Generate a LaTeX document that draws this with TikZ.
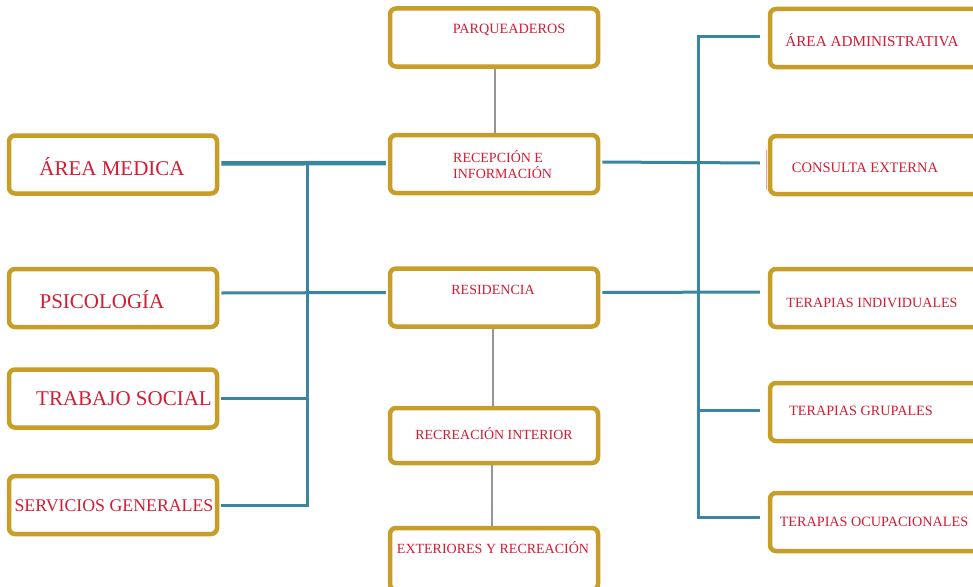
\documentclass[tikz,border=0pt]{standalone}
\usepackage{fontspec}
\setmainfont{Liberation Serif}
\definecolor{gold}{RGB}{198,158,40}
\definecolor{teal2}{RGB}{56,134,160}
\definecolor{redtxt}{RGB}{212,28,52}
\definecolor{grayline}{RGB}{150,150,150}
\begin{document}
\begin{tikzpicture}[x=1pt,y=-1pt,
  box/.style={draw=gold,line width=4.5pt,rounded corners=6pt,fill=white,inner sep=0pt},
  lbox/.style={box,minimum width=208pt,minimum height=58pt},
  cbox/.style={box,minimum width=208pt,minimum height=58pt},
  rbox/.style={box,minimum width=215pt,minimum height=58pt},
  txt/.style={text=redtxt,inner sep=0pt,font=\fontsize{14}{16}\selectfont},
  conn/.style={draw=teal2,line width=3pt},
  gconn/.style={draw=grayline,line width=2pt}]
\useasboundingbox (0,0) rectangle (973,586);
\clip (0,0) rectangle (973,586);
\coordinate (lx) at (307,0);
\coordinate (rx) at (698,0);
% left boxes
\node[lbox] (am) at (113,164.5) {};
\node[lbox] (ps) at (113,298) {};
\node[lbox] (ts) at (113,398.5) {};
\node[lbox] (sg) at (113,505) {};
% centre boxes
\node[cbox] (pq) at (494,37.5) {};
\node[cbox] (re) at (494,164) {};
\node[cbox] (rs) at (494,297.5) {};
\node[cbox,minimum height=55pt] (ri) at (494,435.5) {};
\node[cbox,minimum height=62pt] (ex) at (494,559) {};
% right boxes
\node[rbox] (aa) at (877.5,38) {};
\node[rbox] (ce) at (877.5,165) {};
\node[rbox] (ti) at (877.5,298) {};
\node[rbox] (tg) at (877.5,412) {};
\node[rbox] (to) at (877.5,522) {};
% teal connectors
\draw[conn,line width=4.5pt] ([xshift=2pt,yshift=1pt]am.east) -- ([xshift=-2pt,yshift=1pt]re.west);
\draw[conn] ([xshift=2pt,yshift=5pt]ps.east) -- ([xshift=-2pt,yshift=5pt]rs.west);
\draw[conn] ([yshift=1pt]am.east -| lx) |- ([xshift=2pt]sg.east);
\draw[conn] ([xshift=2pt]ts.east) -- (ts.east -| lx);
\draw[conn] ([xshift=2pt,yshift=2pt]re.east) -- ([xshift=-8pt,yshift=2pt]ce.west);
\draw[conn] ([xshift=2pt,yshift=5pt]rs.east) -- ([xshift=-8pt,yshift=6pt]ti.west);
\draw[conn] ([xshift=-8pt,yshift=1pt]aa.west) -| ([yshift=5pt]rx |- to.west) -- ([xshift=-8pt,yshift=5pt]to.west);
\draw[conn] ([xshift=-8pt,yshift=2pt]tg.west) -- ([yshift=2pt]tg.west -| rx);
% gray connectors
\draw[gconn] ([xshift=1pt]pq.south) -- ([xshift=1pt]re.north);
\draw[gconn] ([xshift=-1pt]rs.south) -- ([xshift=-1pt]ri.north);
\draw[gconn] ([xshift=-2pt]ri.south) -- ([xshift=-2pt]ex.north);
% pink tick at consulta externa
\draw[draw=red!40,line width=0.8pt] (766,150) -- (766,190);
% texts
\node[txt,font=\fontsize{21}{24}\selectfont] (tam) at (112,167) {ÁREA MEDICA};
\node[txt,font=\fontsize{21}{24}\selectfont] (tps) at (102,300) {PSICOLOGÍA};
\node[txt,font=\fontsize{21}{24}\selectfont] (tts) at (124,399) {TRABAJO SOCIAL};
\node[txt,font=\fontsize{17.8}{20}\selectfont] (tsg) at (114,506) {SERVICIOS GENERALES};
\node[txt,font=\fontsize{14.2}{16}\selectfont] (tpq) at (509,30) {PARQUEADEROS};
\node[txt,align=left,anchor=west,font=\fontsize{14}{16}\selectfont] (tre) at (453,165) {RECEPCIÓN E\\INFORMACIÓN};
\node[txt] (trs) at (493,290) {RESIDENCIA};
\node[txt,font=\fontsize{13.9}{16}\selectfont] (tri) at (494,434) {RECREACIÓN INTERIOR};
\node[txt] (tex) at (493,548) {EXTERIORES Y RECREACIÓN};
\node[txt,font=\fontsize{15.2}{17}\selectfont] (taa) at (872,40) {ÁREA ADMINISTRATIVA};
\node[txt,font=\fontsize{14.5}{16}\selectfont] (tce) at (865,168) {CONSULTA EXTERNA};
\node[txt,font=\fontsize{14.1}{16}\selectfont] (tti) at (872,303) {TERAPIAS INDIVIDUALES};
\node[txt,font=\fontsize{14.2}{16}\selectfont] (ttg) at (861,411) {TERAPIAS GRUPALES};
\node[txt,font=\fontsize{14.2}{16}\selectfont] (tto) at (874,522) {TERAPIAS OCUPACIONALES};
\end{tikzpicture}
\end{document}
